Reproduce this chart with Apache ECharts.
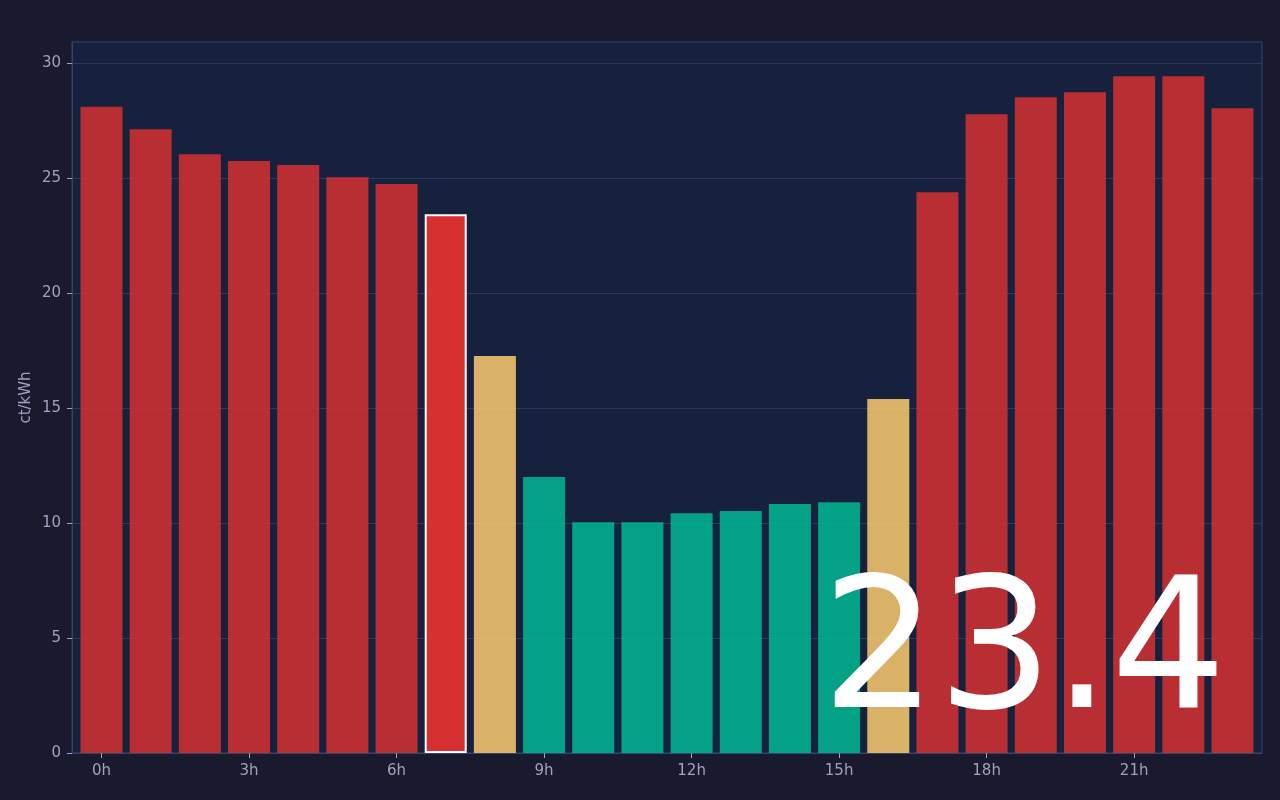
<!DOCTYPE html>
<html>
<head>
<meta charset="utf-8">
<script src="https://cdn.jsdelivr.net/npm/echarts@6/dist/echarts.min.js"></script>
<style>
  html, body { margin: 0; padding: 0; background: #1a1a2e; }
  #chart { width: 1280px; height: 800px; }
</style>
</head>
<body>
<div id="chart"></div>
<script>
// hourly prices, ct/kWh
const hours = [0,1,2,3,4,5,6,7,8,9,10,11,12,13,14,15,16,17,18,19,20,21,22,23]
const prices = [28.1,27.13,26.04,25.74,25.57,25.04,24.74,23.43,17.26,12.0,10.04,10.04,10.43,10.52,10.83,10.91,15.39,24.39,27.78,28.52,28.74,29.43,29.43,28.04]
// price class per hour: 'high' | 'mid' | 'low'
const levels = ['high','high','high','high','high','high','high','high','mid','low','low','low','low','low','low','low','mid','high','high','high','high','high','high','high']
const currentHour = 7
const xTicks = [0,3,6,9,12,15,18,21]
const yTicks = [0,5,10,15,20,25,30]

const COLORS = { high: '#d63031', mid: '#fdcb6e', low: '#00b894' }
const LABEL = '#a0a0c0'
const GRID_LINE = '#2c3a5c'
const BORDER = '#34456b'
const FONT = 'DejaVu Sans'

const chart = echarts.init(document.getElementById('chart'))

const data = hours.map((h, i) => {
  const cur = h === currentHour
  return {
    value: [h, prices[i]],
    itemStyle: cur
      ? { color: COLORS[levels[i]], opacity: 1, borderColor: '#ffffff', borderWidth: 2 }
      : { color: COLORS[levels[i]], opacity: 0.85 },
  }
})

chart.setOption({
  backgroundColor: '#1a1a2e',
  animation: false,
  grid: {
    left: 72, right: 18, top: 42, bottom: 47,
    show: true, backgroundColor: '#16213e', borderColor: BORDER, borderWidth: 1,
  },
  xAxis: {
    type: 'value', min: -0.6, max: 23.6,
    axisLine: { show: true, onZero: false, lineStyle: { color: BORDER } },
    axisTick: { show: true, inside: false, customValues: xTicks, length: 5, lineStyle: { color: LABEL } },
    axisLabel: { customValues: xTicks, formatter: v => `${v}h`, color: LABEL, fontSize: 15, margin: 11,
      fontFamily: FONT },
    splitLine: { show: false },
  },
  yAxis: {
    type: 'value', min: 0, max: 30.92,
    name: 'ct/kWh', nameLocation: 'middle', nameGap: 38, nameMoveOverlap: false,
    nameTextStyle: { color: LABEL, fontSize: 15, fontFamily: FONT },
    axisLine: { show: true, onZero: false, lineStyle: { color: BORDER } },
    axisTick: { show: true, inside: false, customValues: yTicks, length: 5, lineStyle: { color: LABEL } },
    axisLabel: { customValues: yTicks, color: LABEL, fontSize: 15, margin: 11, fontFamily: FONT },
    interval: 5,
    splitLine: { show: true, lineStyle: { color: GRID_LINE, width: 1 } },
  },
  series: [{
    type: 'bar', data, barWidth: 42,
  }],
  graphic: [{
    type: 'text', x: 1024, y: 751, z: 100,
    style: {
      text: prices[currentHour].toFixed(1), fill: '#ffffff',
      fontSize: 182, fontFamily: FONT,
      align: 'center', verticalAlign: 'bottom',
    },
  }],
})
</script>
</body>
</html>
